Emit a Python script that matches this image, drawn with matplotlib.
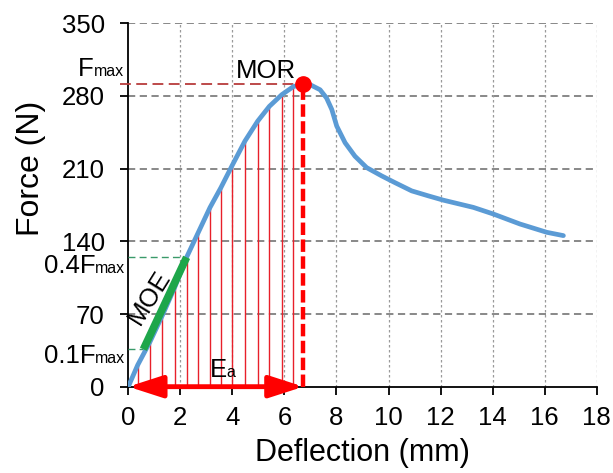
import numpy as np
import matplotlib.pyplot as plt
from matplotlib.patches import FancyArrowPatch

plt.rcParams['font.family'] = ['Liberation Sans', 'DejaVu Sans']

# Load-deflection curve (mm, N)
deflection = [0.0, 0.36, 0.83, 1.31, 1.79, 2.24, 2.69, 3.14, 3.56, 4.0, 4.48, 4.97,
              5.42, 5.9, 6.34, 6.73, 6.98, 7.37, 7.62, 7.82, 8.01, 8.33, 8.71,
              9.16, 9.74, 10.25, 10.89, 11.53, 12.1, 13.26, 14.03, 15.05, 16.08, 16.72]
force = [0.0, 20.8, 43, 68.7, 96, 124.6, 148.6, 172.6, 191.8, 213.5, 236.5, 255.7,
         270, 281.3, 289, 291.5, 291, 286, 278, 267, 251, 235, 222,
         211, 203, 196.5, 188.6, 183.8, 179.7, 172.7, 166.3, 156.7, 148.7, 145.5]

# Characteristic points
f_max = 291.5
x_peak = 6.73
f_lo, x_lo = 36, 0.58      # lower end of the MOE segment
f_hi, x_hi = 124.6, 2.24   # upper end of the MOE segment

# Hatch positions under the curve (energy area)
hatch_x = [0.36, 0.83, 1.31, 1.79, 2.24, 2.69, 3.14, 3.56, 4.0, 4.48, 4.97,
           5.42, 5.9, 6.34]

y_ticks = [0, 70, 140, 210, 280, 350]
x_ticks = [0, 2, 4, 6, 8, 10, 12, 14, 16, 18]

blue = '#5b9bd5'
red = '#ff0000'
green = '#1ea64a'
FS = 18.5
FS_SUB = 11.5

fig = plt.figure(figsize=(6.13, 4.73), dpi=100)
ax = fig.add_axes([0.2093, 0.1825, 0.7641, 0.7682])
ax.set_xlim(0, 18)
ax.set_ylim(0, 350)
renderer = fig.canvas.get_renderer()


def sub_label(x, y, main, sub, transform, ha='right', dy_px=0):
    """Draw main text followed by a smaller subscript on the same baseline."""
    if ha == 'right':
        t_sub = ax.annotate(sub, (x, y), xycoords=transform, xytext=(0, dy_px),
                            textcoords='offset pixels', ha='right', va='baseline',
                            fontsize=FS_SUB, annotation_clip=False, zorder=7)
        w = t_sub.get_window_extent(renderer).width
        ax.annotate(main, (x, y), xycoords=transform, xytext=(-w, dy_px),
                    textcoords='offset pixels', ha='right', va='baseline',
                    fontsize=FS, annotation_clip=False, zorder=7)
    else:
        t_main = ax.annotate(main, (x, y), xycoords=transform, xytext=(0, dy_px),
                             textcoords='offset pixels', ha='left', va='baseline',
                             fontsize=FS, annotation_clip=False, zorder=7)
        w = t_main.get_window_extent(renderer).width
        ax.annotate(sub, (x, y), xycoords=transform, xytext=(w, dy_px),
                    textcoords='offset pixels', ha='left', va='baseline',
                    fontsize=FS_SUB, annotation_clip=False, zorder=7)


# grid
for yv in y_ticks[1:]:
    ax.axhline(yv, color='#7f7f7f', lw=1.3, ls=(0, (4, 2.5)), zorder=0)
for xv in x_ticks[1:]:
    ax.axvline(xv, color='#9a9a9a', lw=0.9, ls=(0, (2, 2)), zorder=0)

# hatch lines under the rising branch
dx = np.array(deflection)
fy = np.array(force)
for hx in hatch_x:
    ax.plot([hx, hx], [0, np.interp(hx, dx[:16], fy[:16])], color='#e8202a', lw=1.0, zorder=2)

# reference levels
ax.plot([-0.3, x_peak], [f_max, f_max], color='#b83c3c', lw=1.3, ls=(0, (6, 3)),
        clip_on=False, zorder=3)
ax.plot([0, x_hi], [f_hi, f_hi], color='#3a9a6a', lw=1.0, ls=(0, (5, 3)), zorder=3)
ax.plot([0, x_lo], [f_lo, f_lo], color='#3a9a6a', lw=1.0, ls=(0, (5, 3)), zorder=3)

# curve
ax.plot(deflection, force, color=blue, lw=3.4, solid_capstyle='round',
        solid_joinstyle='round', zorder=4)

# MOE slope segment
ax.plot([x_lo, x_hi], [f_lo, f_hi], color=green, lw=5.5, solid_capstyle='butt', zorder=5)

# peak marker and drop line
ax.plot([x_peak, x_peak], [0, f_max], color=red, lw=3.2, ls=(0, (2.8, 1.0)), zorder=5)
ax.plot([x_peak], [f_max], 'o', color=red, ms=11, zorder=6)

# Ea double arrow
arr = FancyArrowPatch((0, 0), (x_peak, 0), arrowstyle='<|-|>,head_length=1.3,head_width=0.42',
                      mutation_scale=16, color=red, lw=3.5, clip_on=False, zorder=6,
                      shrinkA=0, shrinkB=0)
ax.add_patch(arr)

# spines and ticks
for s in ['top', 'right']:
    ax.spines[s].set_visible(False)
ax.spines['left'].set_linewidth(1.3)
ax.spines['bottom'].set_linewidth(1.3)
ax.set_xticks(x_ticks)
ax.set_yticks(y_ticks)
ax.tick_params(direction='out', length=6, width=1.3, labelsize=FS)
ax.tick_params(axis='y', pad=11)
ax.tick_params(axis='x', pad=8)

# symbolic labels for Fmax levels
ytr = ax.get_yaxis_transform()
sub_label(-0.01, f_max, 'F', 'max', ytr, dy_px=8)
sub_label(-0.006, 0.4 * f_max, '0.4F', 'max', ytr, dy_px=-7)
sub_label(-0.006, 0.1 * f_max, '0.1F', 'max', ytr, dy_px=-7)

ax.text(5.28, 304, 'MOR', fontsize=FS, ha='center', va='center', zorder=7)
ax.text(0.8, 86, 'MOE', fontsize=FS, ha='center', va='center', rotation=58, zorder=7)
sub_label(3.13, 9, 'E', 'a', ax.transData, ha='left')

ax.set_xlabel('Deflection (mm)', fontsize=22, labelpad=6)
ax.set_ylabel('Force (N)', fontsize=23)
ax.yaxis.set_label_coords(-0.176, 0.6)

fig.savefig('out.png', dpi=100)
